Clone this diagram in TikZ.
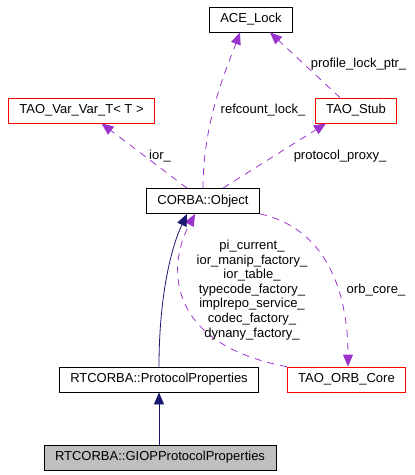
\documentclass[tikz,border=0pt]{standalone}
\usepackage{fontspec}
\setmainfont{Liberation Sans}
\usetikzlibrary{arrows.meta, positioning}
\definecolor{usecol}{HTML}{9A32CD}
\definecolor{inhcol}{HTML}{191970}

\begin{document}
\begin{tikzpicture}[x=1pt,y=-1pt,
    lbl/.style={font=\fontsize{13}{14.6}\selectfont, align=center, inner sep=0pt}]
\useasboundingbox (0,0) rectangle (415,475);
\begin{scope}[every node/.style={draw=black,rectangle,line width=0.8pt,
              minimum height=25pt,inner xsep=11pt,inner ysep=0pt,
              font=\fontsize{13}{14.6}\selectfont}]
    \node (L) at (251,19.5) {ACE\_Lock};
    \node[draw=red] (V) at (81.5,110.5) {TAO\_Var\_Var\_T< T >};
    \node[draw=red] (S) at (356,110.5) {TAO\_Stub};
    \node (O) at (203,201) {CORBA::Object};
    \node (P) at (159,379.5) {RTCORBA::ProtocolProperties};
    \node[draw=red] (C) at (346.5,379.5) {TAO\_ORB\_Core};
    \node[fill=black!25] (G) at (160,457.5) {RTCORBA::GIOPProtocolProperties};
\end{scope}

\begin{scope}[>={Triangle[length=12pt,width=10pt]},
              every path/.style={line width=0.8pt},
              usedash/.style={usecol,dash pattern=on 7pt off 6pt}]
    % usage relations
    \draw [->,usedash] (O.north) .. controls (203,120) and (228,65) .. ([xshift=-11pt]L.south);
    \draw [->,usedash] ([xshift=-16pt]S.north) -- ([xshift=19pt]L.south);
    \draw [->,usedash] ([xshift=-16pt]O.north) -- ([xshift=20pt]V.south);
    \draw [->,usedash] ([xshift=20pt]O.north) -- ([xshift=-30pt]S.south);
    \draw [->,usedash] (O.south east) .. controls (325,228) and (348,290) .. ([xshift=1.5pt]C.north);
    \draw [->,usedash] (C.north west) .. controls (170,345) and (165,270) .. ([xshift=-8pt]O.south);
    % inheritance
    \draw [->,inhcol] (P.north) .. controls (159,300) and (170,250) .. ([xshift=-16pt]O.south);
    \draw [->,inhcol] ([xshift=-1pt]G.north) -- (P.south);
\end{scope}

\node[lbl] (l1) at (263,110) {refcount\_lock\_};
\node[lbl] (l2) at (358.5,64) {profile\_lock\_ptr\_};
\node[lbl] (l3) at (160,156) {ior\_};
\node[lbl] (l4) at (340,156) {protocol\_proxy\_};
\node[lbl] (l5) at (252,290) {pi\_current\_\\ior\_manip\_factory\_\\ior\_table\_\\typecode\_factory\_\\implrepo\_service\_\\codec\_factory\_\\dynany\_factory\_};
\node[lbl] (l6) at (376,290) {orb\_core\_};
\end{tikzpicture}
\end{document}
